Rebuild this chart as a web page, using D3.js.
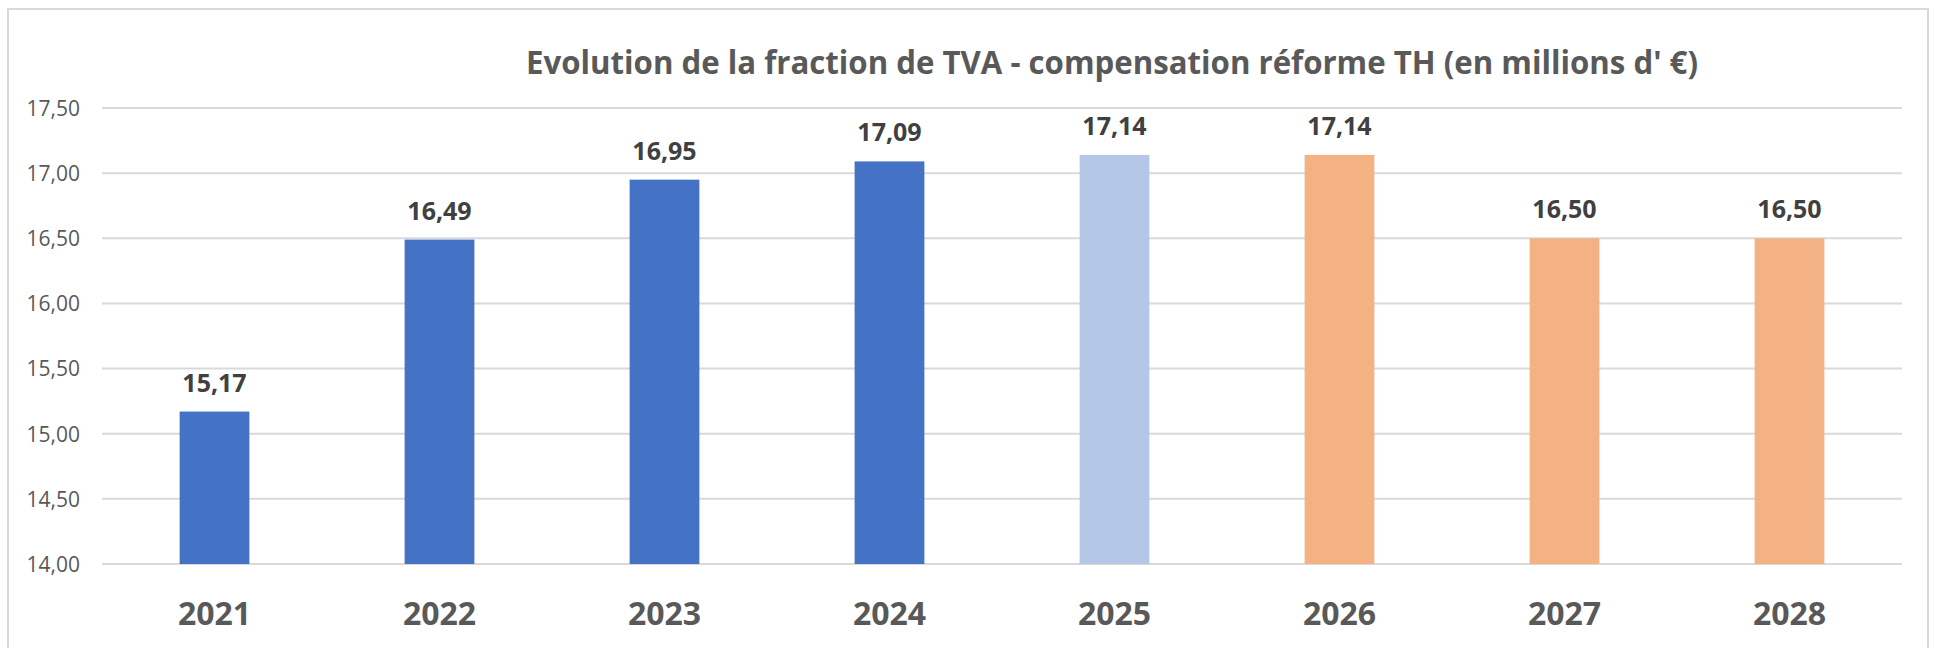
<!DOCTYPE html>
<html>
<head>
<meta charset="utf-8">
<script src="https://cdn.jsdelivr.net/npm/d3@7"></script>
<style>
  html, body { margin: 0; padding: 0; background: #fff; }
  svg { display: block; }
</style>
</head>
<body>
<div id="chart"></div>
<script>
// Fraction de TVA — compensation réforme TH
const years = ['2021', '2022', '2023', '2024', '2025', '2026', '2027', '2028'];
const values = [15.17, 16.49, 16.95, 17.09, 17.14, 17.14, 16.50, 16.50];
const status = ['reel', 'reel', 'reel', 'reel', 'estime', 'prevu', 'prevu', 'prevu'];
const yTicks = [14.0, 14.5, 15.0, 15.5, 16.0, 16.5, 17.0, 17.5];

const COLORS = { reel: '#4472C4', estime: '#B4C7E7', prevu: '#F4B183' };
const FONT = '"Open Sans", "Noto Sans", sans-serif';
const fmt = v => v.toFixed(2).replace('.', ',');

const W = 1934, H = 648;
const m = { t: 108, r: 32, b: 84, l: 102 };

const svg = d3.select('#chart').append('svg')
  .attr('width', W).attr('height', H);

// chart frame
svg.append('rect')
  .attr('x', 8).attr('y', 9)
  .attr('width', 1920).attr('height', 700)
  .attr('fill', 'none')
  .attr('stroke', '#D9D9D9').attr('stroke-width', 2);

const x = d3.scaleBand().domain(years)
  .range([m.l, W - m.r]).paddingInner(0.69).paddingOuter(0.345);
const y = d3.scaleLinear().domain([14, 17.5]).range([H - m.b, m.t]);

// gridlines
svg.append('g').selectAll('line')
  .data(yTicks).join('line')
  .attr('x1', m.l).attr('x2', W - m.r)
  .attr('y1', d => y(d)).attr('y2', d => y(d))
  .attr('stroke', '#D9D9D9').attr('stroke-width', 2);

// y axis
svg.append('g').attr('transform', `translate(${m.l - 22},0)`)
  .call(d3.axisLeft(y).tickValues(yTicks).tickFormat(fmt).tickSize(0).tickPadding(0))
  .call(g => g.select('.domain').remove())
  .call(g => g.selectAll('text')
    .attr('font-family', FONT).attr('font-size', 21)
    .attr('fill', '#595959').attr('dy', '0.35em'));

// bars
svg.append('g').selectAll('rect')
  .data(years).join('rect')
  .attr('x', d => x(d))
  .attr('width', x.bandwidth())
  .attr('y', (d, i) => y(values[i]))
  .attr('height', (d, i) => y(14) - y(values[i]))
  .attr('fill', (d, i) => COLORS[status[i]]);

// value labels
svg.append('g').selectAll('text')
  .data(years).join('text')
  .attr('x', d => x(d) + x.bandwidth() / 2)
  .attr('y', (d, i) => y(values[i]) - 20)
  .attr('text-anchor', 'middle')
  .attr('font-family', FONT).attr('font-size', 25).attr('font-weight', 700)
  .attr('fill', '#404040')
  .text((d, i) => fmt(values[i]));

// x axis labels
svg.append('g').attr('transform', `translate(0,${H - m.b})`)
  .call(d3.axisBottom(x).tickSize(0).tickPadding(0))
  .call(g => g.select('.domain').remove())
  .call(g => g.selectAll('text')
    .attr('font-family', FONT).attr('font-size', 32).attr('font-weight', 700)
    .attr('fill', '#595959').attr('dy', null).attr('y', 61));

// title
svg.append('text')
  .attr('x', 526).attr('y', 74)
  .attr('textLength', 1172).attr('lengthAdjust', 'spacingAndGlyphs')
  .attr('font-family', FONT).attr('font-size', 33).attr('font-weight', 700)
  .attr('fill', '#595959')
  .text("Evolution de la fraction de TVA - compensation réforme TH (en millions d' €)");
</script>
</body>
</html>
